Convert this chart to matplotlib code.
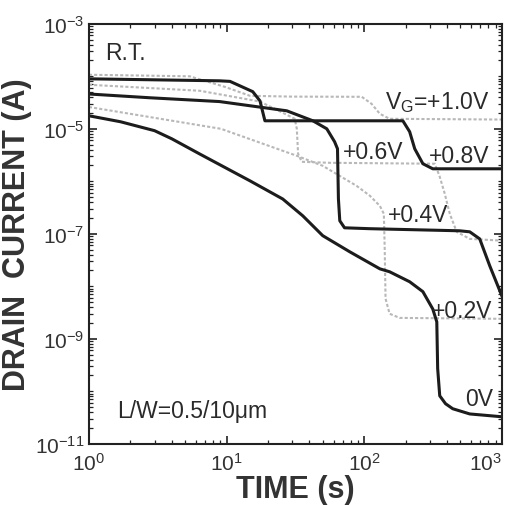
import matplotlib
matplotlib.use("Agg")
import matplotlib.pyplot as plt
import numpy as np

plt.rcParams['font.family'] = ['Liberation Sans', 'DejaVu Sans']
plt.rcParams['mathtext.fontset'] = 'custom'
plt.rcParams['mathtext.rm'] = 'Liberation Sans'
plt.rcParams['mathtext.it'] = 'Liberation Sans:italic'
plt.rcParams['mathtext.bf'] = 'Liberation Sans:bold'

# values: time (s) and drain current (A)
t_10 = [1, 5.4, 9.7, 14.8, 30, 96, 113, 130, 153, 1000]
i_10 = [1.07e-4, 1.0e-4, 6.3e-5, 4.25e-5, 4.1e-5, 4.07e-5, 3.0e-5, 1.93e-5, 1.55e-5, 1.5e-5]

t_08 = [1, 8.9, 10.6, 15.5, 17.5, 19.0, 28.8, 191, 214, 233, 267, 315, 1000]
i_08 = [8.95e-5, 8.2e-5, 8.0e-5, 5.1e-5, 3.4e-5, 1.42e-5, 1.42e-5, 1.42e-5, 8.8e-6, 4.16e-6, 2.16e-6, 1.73e-6, 1.73e-6]

t_06 = [1, 6.4, 17.5, 26.5, 31.3, 32.4, 33.1, 35.2, 56, 326, 354, 385, 419, 470, 585, 1000]
i_06 = [6.9e-5, 5.3e-5, 3.3e-5, 1.93e-5, 1.55e-5, 1.0e-5, 3.34e-6, 2.35e-6, 2.25e-6, 2.16e-6, 1.22e-6, 5.8e-7, 2.4e-7, 1.09e-7, 8.0e-8, 7.4e-8]

t_04 = [1, 2.77, 8.9, 27.4, 42.4, 53.5, 61, 64, 65, 66.5, 72, 110, 494, 585, 691, 817, 1000]
i_04 = [4.6e-5, 3.9e-5, 3.3e-5, 2.2e-5, 1.42e-5, 1.0e-5, 5.65e-6, 4.16e-6, 4.6e-7, 1.77e-7, 1.3e-7, 1.25e-7, 1.14e-7, 1.09e-7, 8.0e-8, 2.46e-8, 6.6e-9]

t_02 = [1, 9.1, 32.4, 50, 88, 110, 130, 139, 141, 143, 153, 181, 1000]
i_02 = [2.6e-5, 1.0e-5, 3.06e-6, 1.97e-6, 8.2e-7, 5.3e-7, 3.4e-7, 2.4e-7, 5.2e-8, 5.8e-9, 3.0e-9, 2.5e-9, 2.4e-9]

t_00 = [1, 1.7, 3.0, 4.0, 6.4, 14.8, 25.6, 35.8, 50, 79, 130, 153, 214, 267, 315, 337, 342, 354, 390, 440, 585, 1000]
i_00 = [1.77e-5, 1.36e-5, 9.2e-6, 6.45e-6, 3.3e-6, 1.02e-6, 4.6e-7, 2.2e-7, 9.2e-8, 4.5e-8, 2.15e-8, 1.89e-8, 1.22e-8,
        7.9e-9, 3.7e-9, 2.1e-9, 2.7e-10, 8.2e-11, 5.8e-11, 4.65e-11, 3.7e-11, 3.27e-11]

x_ticks = [1, 10, 100, 1000]
x_labels = [r'$10^{0}$', r'$10^{1}$', r'$10^{2}$', r'$10^{3}$']
y_ticks = [1e-3, 1e-5, 1e-7, 1e-9, 1e-11]
y_labels = [r'$10^{-3}$', r'$10^{-5}$', r'$10^{-7}$', r'$10^{-9}$', r'$10^{-11}$']

gray = '#b8b8b8'
black = '#1c1c1c'

fig = plt.figure(figsize=(5.11, 5.06), dpi=100)
ax = fig.add_axes([0.174, 0.121, 0.808, 0.830])

ax.plot(t_10, i_10, color=gray, lw=1.5, ls=(0, (1.5, 1)))
ax.plot(t_06, i_06, color=gray, lw=1.5, ls=(0, (1.5, 1)))
ax.plot(t_02, i_02, color=gray, lw=1.5, ls=(0, (1.5, 1)))
ax.plot(t_08, i_08, color=black, lw=2.2)
ax.plot(t_04, i_04, color=black, lw=2.2)
ax.plot(t_00, i_00, color=black, lw=2.2)

ax.set_xscale('log')
ax.set_yscale('log')
ax.set_xticks(x_ticks, x_labels)
ax.set_yticks(y_ticks, y_labels)
ax.yaxis.set_minor_locator(matplotlib.ticker.LogLocator(base=10, subs=np.arange(1, 10), numticks=30))
ax.yaxis.set_minor_formatter(matplotlib.ticker.NullFormatter())
ax.xaxis.set_minor_locator(matplotlib.ticker.LogLocator(base=10, subs=np.arange(2, 10), numticks=30))
ax.xaxis.set_minor_formatter(matplotlib.ticker.NullFormatter())
ax.set_xlim(1, 1000)
ax.set_ylim(1e-11, 1e-3)

ax.tick_params(which='both', direction='in', top=True, right=True, colors='#222222')
ax.tick_params(which='major', length=6, width=1.2, labelsize=15, labelcolor='#333333')
ax.tick_params(which='minor', length=3, width=0.9)
ax.tick_params(axis='x', which='major', pad=6)
lbls = ax.get_xticklabels()
lbls[-1].set_ha('right')
for s in ax.spines.values():
    s.set_linewidth(1.5)
    s.set_color('#222222')

ax.set_xlabel('TIME (s)', fontsize=22, fontweight='bold', color='#333333', labelpad=0)
ax.set_ylabel('DRAIN  CURRENT (A)', fontsize=22, fontweight='bold', color='#333333', labelpad=2)

fs = 16.5
tc = '#2a2a2a'
ax.text(0.039, 0.931, 'R.T.', transform=ax.transAxes, fontsize=fs, color=tc, va='center', ha='left')
ax.text(0.068, 0.079, 'L/W=0.5/10\u03bcm', transform=ax.transAxes, fontsize=fs, color=tc, va='center', ha='left')
ax.text(817, 3.3e-5, r'V$_\mathrm{G}$=+1.0V', fontsize=fs, color=tc, va='center', ha='right')
ax.text(70, 3.65e-6, '+0.6V', fontsize=fs, color=tc, va='center', ha='left')
ax.text(817, 3.06e-6, '+0.8V', fontsize=fs, color=tc, va='center', ha='right')
ax.text(148, 2.3e-7, '+0.4V', fontsize=fs, color=tc, va='center', ha='left')
ax.text(859, 3.4e-9, '+0.2V', fontsize=fs, color=tc, va='center', ha='right')
ax.text(859, 7.2e-11, '0V', fontsize=fs, color=tc, va='center', ha='right')

fig.savefig('out.png', dpi=100)
